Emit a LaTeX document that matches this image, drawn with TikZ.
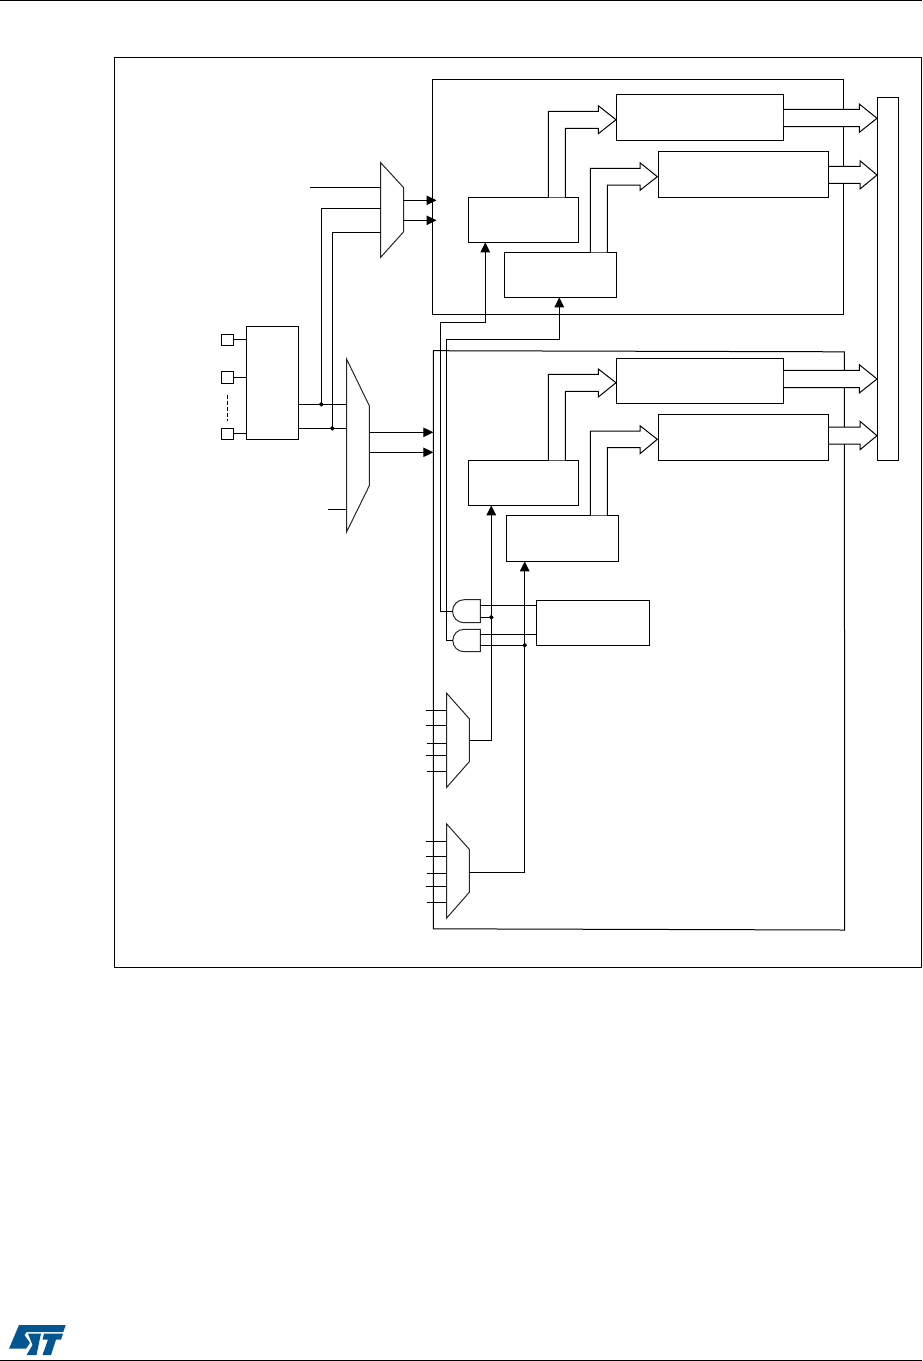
\documentclass[tikz,border=0pt]{standalone}
\usetikzlibrary{arrows.meta, calc}

\definecolor{stblue}{RGB}{3,86,146}

\begin{document}
\begin{tikzpicture}[
  x=1pt, y=-1pt,
  line width=1pt,
  blockbox/.style={draw=black, fill=white, inner sep=0pt},
  pinbox/.style={draw=black, fill=white, inner sep=0pt, minimum width=12.4pt, minimum height=11.4pt},
  wire/.style={draw=black},
  tipwire/.style={draw=black, -{Triangle[length=10pt, width=9.5pt]}, shorten >=-0.5pt},
  busarrow/.style={draw=black, fill=white, line join=miter},
  muxshape/.style={draw=black!85, fill=white, line join=miter},
  joindot/.style={circle, draw=black, fill=black, inner sep=0pt, minimum size=3.4pt}
]
\useasboundingbox (0,0) rectangle (922,1361);

% page rules and frame
\draw[wire] (0,0.5) -- (922,0.5);
\draw[wire] (0,1360) -- (922,1360);
\draw[wire] (114.3,57) rectangle (921,967);

% the two large blocks
\draw[wire] (432.5,79.3) -- (843.3,79.3) -- (843.3,314.3) -- (432.5,314.3) -- cycle;
\draw[wire] (433.3,350.7) -- (844.3,351.8) -- (844.7,930) -- (433.3,928.8) -- cycle;

% inside the upper block
\node[blockbox, minimum width=167pt, minimum height=46pt]   (timA) at (699.8,117.3) {};
\node[blockbox, minimum width=170.4pt, minimum height=46pt] (timB) at (743.5,174.3) {};
\node[blockbox, minimum width=110.4pt, minimum height=45pt] (ctlA) at (523.5,219.8) {};
\node[blockbox, minimum width=112.4pt, minimum height=45pt] (ctlB) at (560.5,274.8) {};

% inside the lower block
\node[blockbox, minimum width=167pt, minimum height=45pt]   (timC) at (699.8,380.8) {};
\node[blockbox, minimum width=170.4pt, minimum height=46pt] (timD) at (743.5,437.3) {};
\node[blockbox, minimum width=110.4pt, minimum height=45pt] (ctlC) at (523.5,482.8) {};
\node[blockbox, minimum width=112pt, minimum height=46pt]   (ctlD) at (562.3,538.3) {};
\node[blockbox, minimum width=113pt, minimum height=45pt]   (trig) at (592.8,622.8) {};

% output bus and the pin block
\node[blockbox, minimum width=21.4pt, minimum height=363pt] (bus)  at (888,278.8) {};
\node[blockbox, minimum width=52.4pt, minimum height=113pt] (gpio) at (272.5,382.8) {};
\node[pinbox] (pinA) at (227.5,339.8) {};
\node[pinbox, minimum height=12pt] (pinB) at (227.5,377.3) {};
\node[pinbox] (pinC) at (227.5,433.8) {};
\draw[wire] (pinA.east) -- (pinA.east -| gpio.west);
\draw[wire] (pinB.east) -- (pinB.east -| gpio.west);
\draw[wire] (pinC.east) -- (pinC.east -| gpio.west);
\draw[wire, dash pattern=on 4pt off 2pt] ($(pinB.south)+(0,10.7)$) -- ($(pinC.north)+(0,-6.5)$);

% hollow arrows, upper block
\draw[busarrow] (548.3,197.3) -- (548.3,111.3) -- (598.3,111.3) -- (598.3,105.7) -- (616,119.7)
  -- (598.3,133.7) -- (598.3,128.3) -- (565.3,128.3) -- (565.3,197.3);
\draw[busarrow] (590.3,252.3) -- (590.3,168.3) -- (640,168.3) -- (640,162.7) -- (657.3,176.7)
  -- (640,190.3) -- (640,185) -- (607.3,185) -- (607.3,252.3);
\draw[busarrow] (timA.east |- 0,109.3) -- (859.3,109.3) -- (859.3,104) -- (877,118.3)
  -- (859.3,132.3) -- (859.3,126.7) -- (timA.east |- 0,126.7);
\draw[busarrow] (timB.east |- 0,166.3) -- (860,166.3) -- (860,160.7) -- (877,175)
  -- (860,189) -- (860,183.3) -- (timB.east |- 0,183.3);

% hollow arrows, lower block
\draw[busarrow] (548.3,460.3) -- (548.3,374.3) -- (598.3,374.3) -- (598.3,369) -- (616,382.7)
  -- (598.3,397) -- (598.3,391.3) -- (565.3,391.3) -- (565.3,460.3);
\draw[busarrow] (590.3,515.3) -- (590.3,431) -- (640,431) -- (640,425.7) -- (657.3,439.3)
  -- (640,453.7) -- (640,447.7) -- (607.3,447.7) -- (607.3,515.3);
\draw[busarrow] (timC.east |- 0,370.3) -- (859.3,370.3) -- (859.3,364.7) -- (877,379)
  -- (859.3,393) -- (859.3,387.7) -- (timC.east |- 0,387.7);
\draw[busarrow] (timD.east |- 0,427) -- (860,427) -- (860,421.3) -- (877,435.7)
  -- (860,449.7) -- (860,444) -- (timD.east |- 0,444);

% the two selectors on the left
\draw[muxshape] (380.7,162.7) coordinate (muxAa) -- (403.7,187.7) -- (403.7,231.7) -- (380.7,257.3) -- cycle;
\draw[muxshape] (346.7,359.3) coordinate (muxBa) -- (369.3,405.7) -- (369.3,485.7) -- (346.7,531.7) -- cycle;
\coordinate (gpioA) at (gpio.east |- 0,404.3);
\coordinate (gpioB) at (gpio.east |- 0,428.3);
\node[joindot] (dotA) at (321.3,404.3) {};
\node[joindot] (dotB) at (332.3,428.3) {};
\draw[wire] (gpioA) -- (muxBa |- dotA);
\draw[wire] (gpioB) -- (muxBa |- dotB);
\draw[wire] (dotA.center) |- (muxAa |- 0,208.3);
\draw[wire] (dotB.center) |- (muxAa |- 0,232.3);
\draw[wire] (310,187.3) -- (muxAa |- 0,187.3);
\draw[wire] (328,509.3) -- (muxBa |- 0,509.3);
\draw[tipwire] (403.7,200.3) -- (436,200.3);
\draw[tipwire] (403.7,220.3) -- (436,220.3);
\draw[tipwire] (369.3,432.3) -- (432.8,432.3);
\draw[tipwire] (369.3,452.3) -- (432.8,452.3);

% gates under the lower timers
\draw[muxshape] (480.3,599.7) coordinate (andA) -- (464,599.7) arc[start angle=90, end angle=270, radius=11.5pt] -- (480.3,622.7) -- cycle;
\draw[muxshape] (480.3,629.3) coordinate (andB) -- (464,629.3) arc[start angle=90, end angle=270, radius=11.2pt] -- (480.3,651.7) -- cycle;
\coordinate (andAout) at (452.5,611.2);
\coordinate (andBout) at (452.8,640.5);
\draw[tipwire] (andAout) -- (440.3,611.2) -- (440.3,322.3) -- (485.3,322.3) -- (ctlA.south -| 485.3,0);
\draw[tipwire] (andBout) -- (446.3,640.5) -- (446.3,339.3) -- (559.3,339.3) -- (ctlB.south -| 559.3,0);
\node[joindot] (dotC) at (491.3,617.3) {};
\node[joindot] (dotD) at (524.7,645.3) {};
\draw[wire] (andA |- 0,605) -- (trig.west |- 0,605);
\draw[wire] (andA |- dotC) -- (dotC.center);
\draw[wire] (andB |- 0,634.3) -- (trig.west |- 0,634.3);
\draw[wire] (andB |- dotD) -- (dotD.center);

% trigger selectors at the bottom
\draw[muxshape] (446.7,693.3) coordinate (muxC) -- (469.3,718.7) -- (469.3,761.7) -- (446.7,787.3) -- cycle;
\draw[muxshape] (446.7,824) coordinate (muxD) -- (469.3,849.3) -- (469.3,892.3) -- (446.7,918) -- cycle;
\foreach \yy/\xx in {710.3/426, 725.3/426, 743.3/427, 755.3/426, 771.3/427,
                     841.3/426, 856.3/426, 873.3/427, 886.3/426, 902.3/427}
  \draw[wire] (\xx,\yy) -- (muxC |- 0,\yy);
\draw[tipwire] (469.3,740.3) -- (491.3,740.3) -- (ctlC.south -| 491.3,0);
\draw[tipwire] (469.3,872.3) -- (524.7,872.3) -- (ctlD.south -| 524.7,0);

% logo
\fill[stblue] (19,1325) -- (65.7,1325) -- (63.3,1332) -- (26.5,1332) -- (24.5,1335)
  -- (30,1343) -- (26,1348.7) -- (9,1348.7) -- cycle;
\fill[stblue] (28,1333.5) -- (41,1333.5) -- (36.5,1355) -- (26.5,1355) -- (32.5,1345) -- cycle;
\fill[stblue] (44,1333.5) -- (63,1333.5) -- (61,1339.5) -- (56,1339.5) -- (51,1355)
  -- (42.5,1355) -- (48,1339.5) -- (42.5,1339.5) -- cycle;

\end{tikzpicture}
\end{document}
